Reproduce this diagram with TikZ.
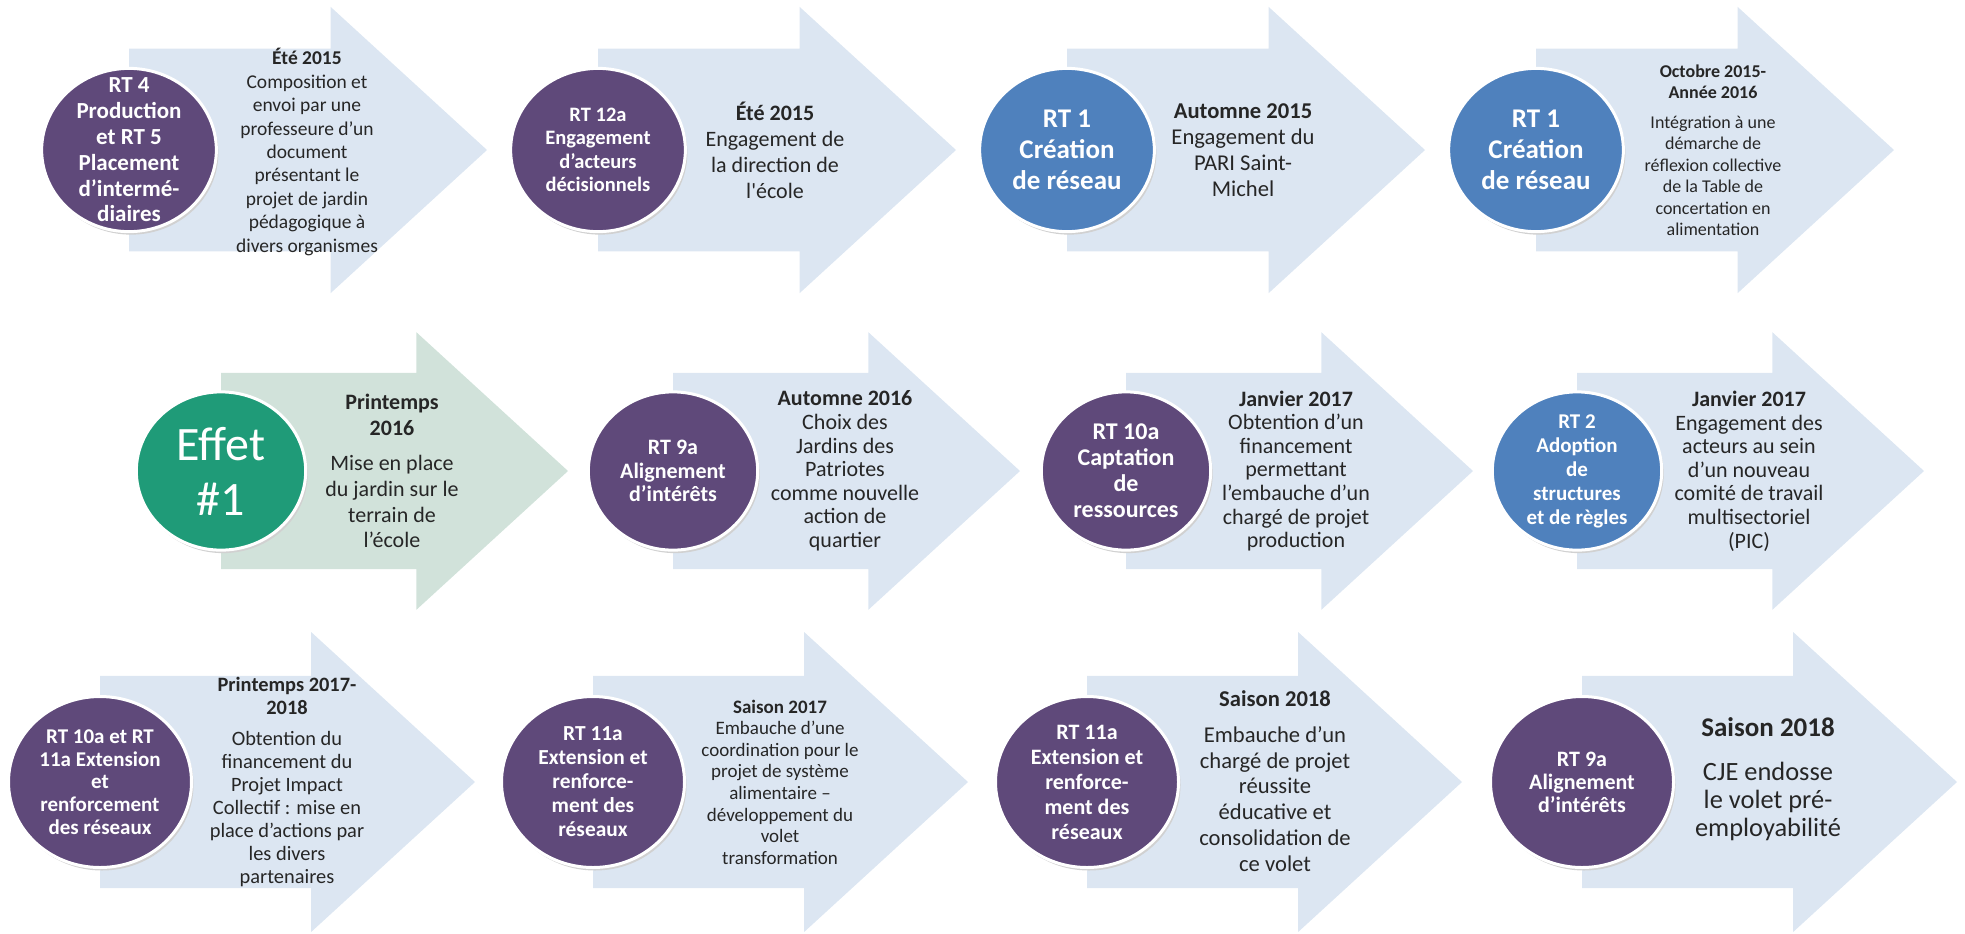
\documentclass[tikz,border=0pt]{standalone}
\usepackage{fontspec}
\setmainfont{Carlito}

\definecolor{fleche}{HTML}{DCE6F2}
\definecolor{flechevert}{HTML}{D1E2DA}
\definecolor{rtviolet}{HTML}{5F497A}
\definecolor{rtbleu}{HTML}{4F81BD}
\definecolor{rtvert}{HTML}{1F9B78}
\definecolor{texte}{HTML}{262626}

\begin{document}
\begin{tikzpicture}[x=0.5pt,y=-0.5pt,
    rond/.style 2 args={text=white,align=center,font=\fontsize{#1}{#2}\selectfont\bfseries},
    etiquette/.style 2 args={text=texte,align=center,font=\fontsize{#1}{#2}\selectfont}]
  \useasboundingbox (0,0) rectangle (1965,933);
  % fleches et ronds
  \foreach \x/\y/\len/\fc/\cc in {129/150/358/fleche/rtviolet, 598/150/358/fleche/rtviolet,
      1067/150/358/fleche/rtbleu, 1536/150/358/fleche/rtbleu,
      221/471/347/flechevert/rtvert, 673/471/347/fleche/rtviolet,
      1126/471/347/fleche/rtviolet, 1577/471/347/fleche/rtbleu,
      100/782/375/fleche/rtviolet, 593/782/375/fleche/rtviolet,
      1087/782/375/fleche/rtviolet, 1582/782/375/fleche/rtviolet}{
    \fill[\fc] (\x,{\y-0.283*\len}) -- ({\x+0.563*\len},{\y-0.283*\len}) -- ({\x+0.563*\len},{\y-0.4*\len})
      -- ({\x+\len},\y) -- ({\x+0.563*\len},{\y+0.4*\len}) -- ({\x+0.563*\len},{\y+0.283*\len})
      -- (\x,{\y+0.283*\len}) -- cycle;
    \fill[black!18] ({\x+2},{\y+3}) ellipse [x radius={0.244*\len}, y radius={0.228*\len}];
    \filldraw[fill=\cc, draw=white, line width=1.5pt] (\x,\y) ellipse [x radius={0.244*\len}, y radius={0.228*\len}];
  }
  % rangee 1
  \node[rond={11.5}{12.9}] (c1) at (129,150) {RT 4\\Production\\et RT 5\\Placement\\d’intermé-\\diaires};
  \node[etiquette={9.75}{11.7}] (t1) at (307,152) {\textbf{Été 2015}\\Composition et\\envoi par une\\professeure d’un\\document\\présentant le\\projet de jardin\\pédagogique à\\divers organismes};
  \node[rond={10.25}{11.7}] (c2) at (598,150) {RT 12a\\Engagement\\d’acteurs\\décisionnels};
  \node[etiquette={11}{13}] (t2) at (775,150) {\textbf{Été 2015}\\Engagement de\\la direction de\\l\textquotesingle école};
  \node[rond={13.5}{15.5}] (c3) at (1067,150) {RT 1\\Création\\de réseau};
  \node[etiquette={11.3}{13}] (t3) at (1243,150) {\textbf{Automne 2015}\\Engagement du\\PARI Saint-\\Michel};
  \node[rond={13.5}{15.5}] (c4) at (1536,150) {RT 1\\Création\\de réseau};
  \node[etiquette={9}{10.75}] (t4) at (1713,150) {\textbf{Octobre 2015-}\\\textbf{Année 2016}\\[4pt]Intégration à une\\démarche de\\réflexion collective\\de la Table de\\concertation en\\alimentation};
  % rangee 2
  \node[text=white,align=center,font=\fontsize{24}{27.5}\selectfont] (c5) at (221,471) {Effet\\\#1};
  \node[etiquette={11}{12.8}] (t5) at (392,471) {\textbf{Printemps}\\\textbf{2016}\\[5pt]Mise en place\\du jardin sur le\\terrain de\\l’école};
  \node[rond={11}{11.7}] (c6) at (673,471) {RT 9a\\Alignement\\d’intérêts};
  \node[etiquette={11}{11.8}] (t6) at (845,471) {\textbf{Automne 2016}\\Choix des\\Jardins des\\Patriotes\\comme nouvelle\\action de\\quartier};
  \node[rond={12}{13}] (c7) at (1126,471) {RT 10a\\Captation\\de\\ressources};
  \node[etiquette={11}{11.8}] (t7) at (1296,471) {\textbf{Janvier 2017}\\Obtention d’un\\financement\\permettant\\l’embauche d’un\\chargé de projet\\production};
  \node[rond={10.5}{12}] (c8) at (1577,471) {RT 2\\Adoption\\de\\structures\\et de règles};
  \node[etiquette={11}{11.8}] (t8) at (1749,471) {\textbf{Janvier 2017}\\Engagement des\\acteurs au sein\\d’un nouveau\\comité de travail\\multisectoriel\\(PIC)};
  % rangee 3
  \node[rond={10.5}{11.3}] (c9) at (100,782) {RT 10a et RT\\11a Extension\\et\\renforcement\\des réseaux};
  \node[etiquette={10.2}{11.5}] (t9) at (287,782) {\textbf{Printemps 2017-}\\\textbf{2018}\\[4pt]Obtention du\\financement du\\Projet Impact\\Collectif : mise en\\place d’actions par\\les divers\\partenaires};
  \node[rond={10.7}{12}] (c10) at (593,782) {RT 11a\\Extension et\\renforce-\\ment des\\réseaux};
  \node[etiquette={9.5}{10.8}] (t10) at (780,782) {\textbf{Saison 2017}\\Embauche d’une\\coordination pour le\\projet de système\\alimentaire –\\développement du\\volet\\transformation};
  \node[rond={11}{12.5}] (c11) at (1087,782) {RT 11a\\Extension et\\renforce-\\ment des\\réseaux};
  \node[etiquette={11.3}{12.9}] (t11) at (1275,781) {\textbf{Saison 2018}\\[5pt]Embauche d’un\\chargé de projet\\réussite\\éducative et\\consolidation de\\ce volet};
  \node[rond={11}{11.5}] (c12) at (1582,782) {RT 9a\\Alignement\\d’intérêts};
  \node[etiquette={13.2}{14}] (t12) at (1768,779) {{\fontsize{13.5}{15}\selectfont\textbf{Saison 2018}}\\[8pt]CJE endosse\\le volet pré-\\employabilité};
\end{tikzpicture}
\end{document}
